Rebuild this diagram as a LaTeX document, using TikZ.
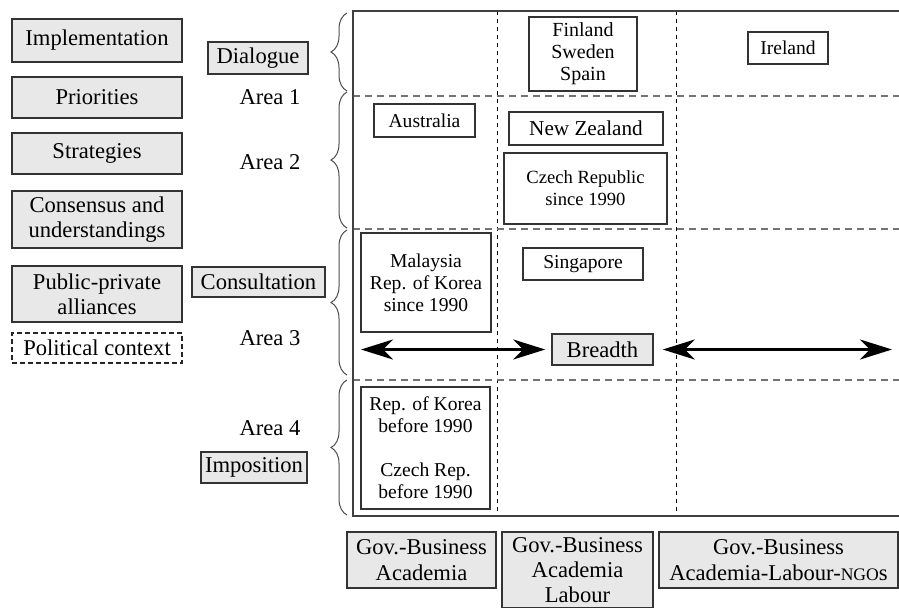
\documentclass[tikz,border=0pt]{standalone}
\usepackage{fontspec}
\setmainfont{Liberation Serif}
\usetikzlibrary{arrows.meta,positioning,decorations.pathreplacing}
\tikzset{
  box/.style={draw=black!80, line width=0.75pt, align=center, inner sep=0pt, font=\fontsize{11.3}{12.3}\selectfont},
  shade/.style={box, fill=black!9},
  lcol/.style={shade, minimum width=85pt},
  ctry/.style={box, fill=white, font=\fontsize{9.8}{11}\selectfont},
  lbl/.style={font=\fontsize{11.3}{13}\selectfont},
  actor/.style={shade, font=\fontsize{11.3}{13}\selectfont},
  frame/.style={draw=black!75, line width=1pt},
  vdash/.style={draw=black, line width=0.5pt, dash pattern=on 2pt off 2pt},
  hdash/.style={draw=black!55, line width=0.6pt, dash pattern=on 3.5pt off 2.5pt},
  brc/.style={draw=black!70, line width=0.5pt, decorate, decoration={brace, amplitude=8pt}},
  dblarr/.style={{Stealth[length=16pt,width=10pt,inset=5pt]}-{Stealth[length=16pt,width=10pt,inset=5pt]}, line width=1.5pt}}

\begin{document}
\begin{tikzpicture}[x=0.5pt, y=-0.5pt]
  \useasboundingbox (0,0) rectangle (899,607);
  % the grid
  \draw[vdash] (497,11) -- (497,516);
  \draw[vdash] (676,11) -- (676,516);
  \draw[hdash] (353,96) -- (899,96);
  \draw[hdash] (353,229) -- (899,229);
  \draw[hdash] (353,380) -- (899,380);
  \draw[frame] (899,11) -- (353,11) -- (353,516) -- (899,516);
  % braces for the four areas
  \draw[brc] (347,91) -- (347,13);
  \draw[brc] (347,228) -- (347,92);
  \draw[brc] (347,375) -- (347,230);
  \draw[brc] (347,515) -- (347,380);
  % left column
  \node[lcol, minimum height=21.5pt] (impl) at (97,40.5) {Implementation};
  \node[lcol, minimum height=20.5pt] (prio) at (97,97.5) {Priorities};
  \node[lcol, minimum height=20.5pt] (strat) at (97,153.5) {Strategies};
  \node[lcol, minimum height=28.5pt] (cons) at (97,219.5) {Consensus and\\understandings};
  \node[lcol, minimum height=28pt] (ppa) at (97,294) {Public-private\\alliances};
  \node[box, draw=black!85, dash pattern=on 2.5pt off 1.5pt, minimum width=85pt, minimum height=15pt] (pol) at (97,348) {Political context};
  % modes and areas
  \node[shade, minimum width=50pt, minimum height=16pt] (dia) at (258,58) {Dialogue};
  \node[lbl] (a1) at (270,97) {Area 1};
  \node[lbl] (a2) at (270,162) {Area 2};
  \node[shade, minimum width=66.5pt, minimum height=15pt] (cnslt) at (258.5,282) {Consultation};
  \node[lbl] (a3) at (270,338) {Area 3};
  \node[lbl] (a4) at (270,428) {Area 4};
  \node[shade, minimum width=53pt, minimum height=15.5pt] (impo) at (254,467.5) {Imposition};
  % countries
  \node[ctry, font=\fontsize{10}{11}\selectfont, minimum width=54pt, minimum height=37pt] (fin) at (583,54) {Finland\\Sweden\\Spain};
  \node[ctry, minimum width=40pt, minimum height=16pt] (ire) at (788,48) {Ireland};
  \node[ctry, minimum width=50.5pt, minimum height=16.5pt] (aus) at (424.5,120.5) {Australia};
  \node[ctry, font=\fontsize{10.6}{12}\selectfont, minimum width=77pt, minimum height=16.5pt] (nz) at (586,128.5) {New Zealand};
  \node[ctry, font=\fontsize{9.3}{11}\selectfont, minimum width=81.5pt, minimum height=35.5pt] (cze) at (585.5,188.5) {Czech Republic\\since 1990};
  \node[ctry, minimum width=65pt, minimum height=49.5pt] (mal) at (426,282.5) {Malaysia\\Rep. of Korea\\since 1990};
  \node[ctry, minimum width=60pt, minimum height=16pt] (sing) at (583,264) {Singapore};
  \node[ctry, minimum width=64.5pt, minimum height=61pt] (kor) at (425.5,448) {Rep. of Korea\\before 1990\\[11pt]Czech Rep.\\before 1990};
  % breadth
  \node[shade, minimum width=50.5pt, minimum height=15.5pt] (bre) at (602.5,349.5) {Breadth};
  \coordinate (bl) at (361,349.5);
  \coordinate (br) at (892,349.5);
  \draw[dblarr] (bl) -- ([xshift=-3pt]bre.west);
  \draw[dblarr] ([xshift=4.5pt]bre.east) -- (br);
  % actors
  \node[actor, minimum width=74.5pt, minimum height=28pt] (g1) at (421.5,560) {Gov.-Business\\Academia};
  \node[actor, font=\fontsize{11.3}{12.6}\selectfont, minimum width=75.5pt, minimum height=38pt] (g2) at (577.5,570) {Gov.-Business\\Academia\\Labour};
  \node[actor, minimum width=119.5pt, minimum height=28pt] (g3) at (778.5,560) {Gov.-Business\\Academia-Labour-{\fontsize{8.8}{10}\selectfont NGO}s};
\end{tikzpicture}
\end{document}
